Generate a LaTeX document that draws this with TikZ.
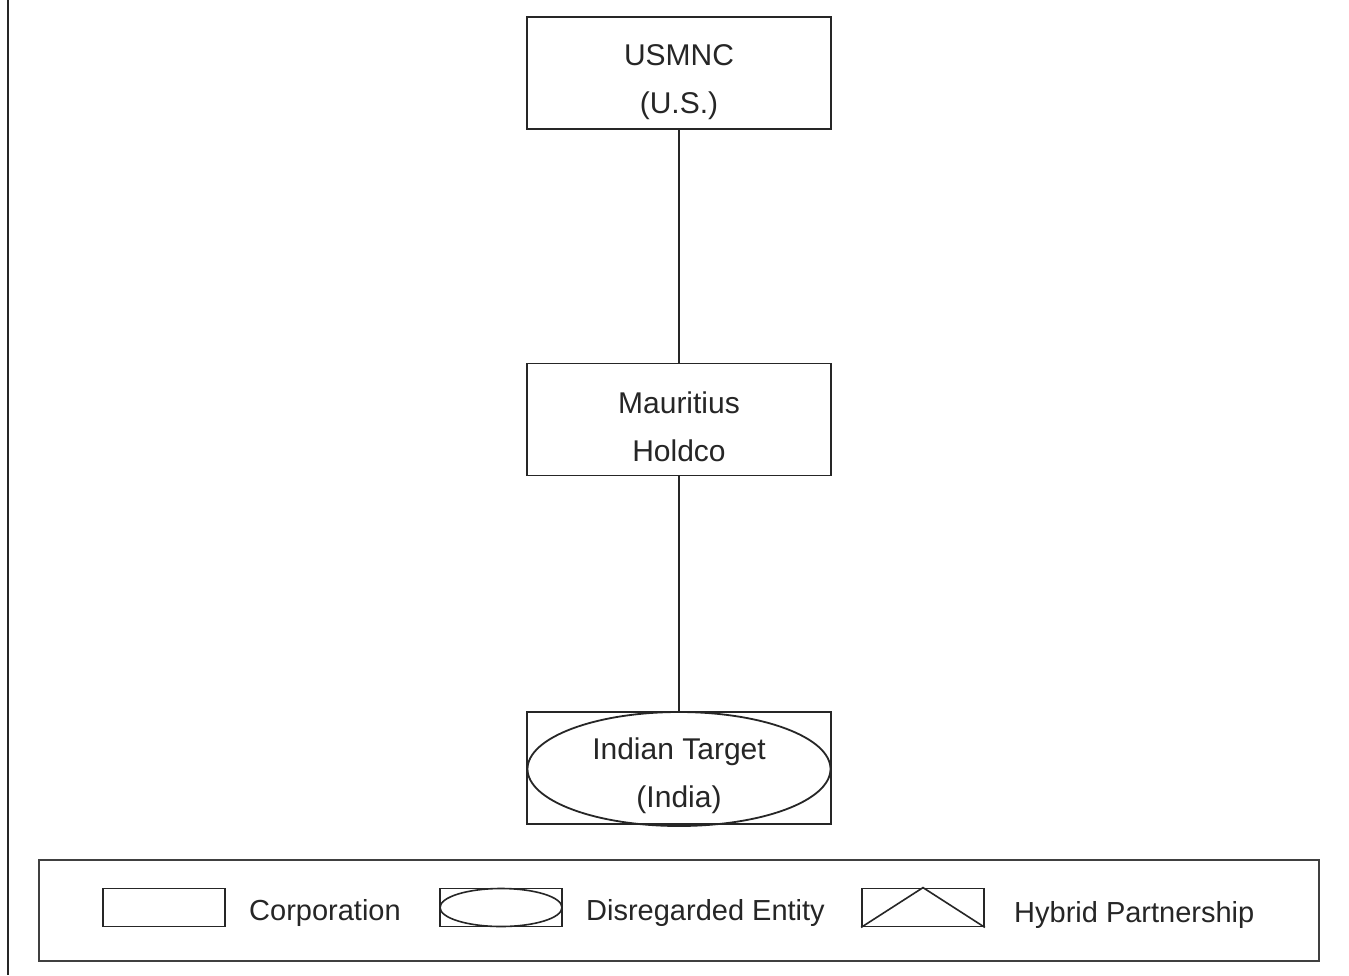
\documentclass[tikz,border=0pt]{standalone}
\usepackage{fontspec}
\setmainfont{Liberation Sans}
\usetikzlibrary{shapes.geometric}
\begin{document}
\begin{tikzpicture}[x=1pt,y=-1pt,
  entity/.style={draw=black!85, line width=1.8pt, minimum width=304pt, minimum height=112pt, inner sep=0pt},
  label/.style={align=center, font=\fontsize{30}{48}\selectfont, text=black!85},
  legbox/.style={draw=black!85, line width=1.8pt, minimum width=122pt, minimum height=38pt, inner sep=0pt},
  legtext/.style={anchor=west, font=\fontsize{29}{34}\selectfont, text=black!85, inner sep=0pt},
  link/.style={draw=black!85, line width=1.8pt}]
\useasboundingbox (0,0) rectangle (1349,975);
\fill[white] (0,0) rectangle (1349,975);
% left margin rule
\draw[line width=2pt, black!85] (7.5,0) -- (7.5,975);

% entities
\node[entity] (usm) at (679,73) {};
\node[label] (usmt) at (679,82.5) {USMNC\\(U.S.)};
\node[entity] (mau) at (679,419.5) {};
\node[label] (maut) at (679,427) {Mauritius\\Holdco};
\node[entity] (ind) at (679,768) {};
\node[draw=black!85, line width=1.8pt, ellipse, minimum width=303pt, minimum height=114pt, inner sep=0pt] (inde) at (679,769) {};
\node[label] (indt) at (679,775.5) {Indian Target\\(India)};

\draw[link] (usm.south) -- (mau.north);
\draw[link] (mau.south) -- (ind.north);

% legend
\node[draw=black!75, line width=1.4pt, minimum width=1280pt, minimum height=101pt, inner sep=0pt] (legend) at (679,910.5) {};
\node[legbox] (lc) at (164,907.5) {};
\node[legtext] (lct) at (249,913) {Corporation};
\node[legbox] (ld) at (501,907.5) {};
\node[draw=black!85, line width=1.6pt, ellipse, minimum width=122pt, minimum height=38pt, inner sep=0pt] (lde) at (501,907.5) {};
\node[legtext] (ldt) at (586,913) {Disregarded Entity};
\node[legbox] (lh) at (923,907.5) {};
\draw[line width=1.6pt, black!85] (lh.south west) -- (lh.north) -- (lh.south east);
\node[legtext] (lht) at (1014,915) {Hybrid Partnership};
\end{tikzpicture}
\end{document}
